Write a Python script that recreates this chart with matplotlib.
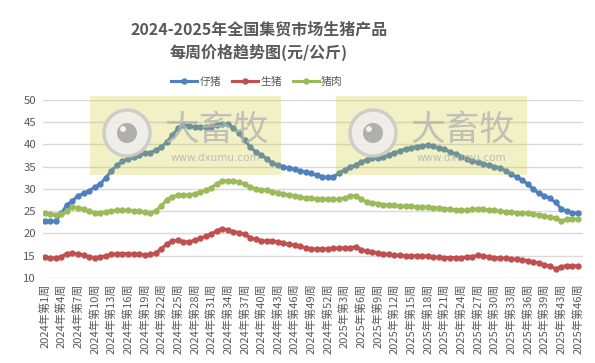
import numpy as np
import matplotlib
matplotlib.use('Agg')
import matplotlib.pyplot as plt
from matplotlib.patches import Rectangle, Ellipse

plt.rcParams['font.family'] = ['Noto Sans CJK SC', 'DejaVu Sans']

# categorias: semanas 2024 (1-52) y 2025 (1-39, 41-46)
semanas_2024 = list(range(1, 53))
semanas_2025 = list(range(1, 40)) + list(range(41, 47))
etiquetas = ['2024年第%d周' % s for s in semanas_2024] + ['2025年第%d周' % s for s in semanas_2025]

# precios (yuan/kg)
zaizhu = [22.7, 22.7, 22.9, 24.5, 26.4, 27.3, 28.5, 29.0, 29.6, 30.4,
          31.1, 32.5, 34.1, 35.3, 36.2, 36.8, 37.2, 37.6, 38.0, 38.2,
          38.7, 39.4, 40.6, 42.1, 43.6, 44.4, 44.2, 44.0, 44.0, 43.9,
          44.0, 44.4, 44.7, 44.5, 43.8, 42.5, 41.0, 39.5, 38.3, 37.6,
          36.8, 35.8, 35.3, 35.0, 34.7, 34.4, 34.1, 33.8, 33.5, 33.1,
          32.8, 32.6, 32.7, 33.6, 34.3, 34.9, 35.4, 36.0, 36.6, 36.9,
          37.0, 37.2, 37.6, 38.1, 38.6, 39.0, 39.3, 39.5, 39.7, 39.9,
          39.6, 39.2, 38.9, 38.4, 37.9, 37.3, 36.8, 36.3, 36.1, 35.7,
          35.4, 35.0, 34.8, 34.1, 33.3, 32.7, 32.0, 31.1, 30.0, 29.0,
          28.5, 27.9, 27.0, 25.6, 25.0, 24.7, 24.5]
shengzhu = [14.7, 14.5, 14.5, 14.8, 15.5, 15.6, 15.4, 15.2, 14.8, 14.6,
            14.7, 15.0, 15.3, 15.4, 15.5, 15.5, 15.4, 15.3, 15.2, 15.3,
            15.6, 16.6, 17.6, 18.4, 18.5, 18.2, 18.1, 18.5, 18.9, 19.4,
            19.9, 20.6, 21.1, 20.8, 20.4, 20.2, 19.8, 19.1, 18.7, 18.4,
            18.3, 18.4, 18.1, 17.8, 17.6, 17.4, 17.1, 16.8, 16.6, 16.5,
            16.5, 16.6, 16.7, 16.7, 16.8, 16.8, 17.0, 16.4, 16.0, 15.8,
            15.6, 15.4, 15.3, 15.1, 15.1, 15.0, 15.0, 15.0, 15.0, 14.9,
            14.7, 14.7, 14.6, 14.6, 14.6, 14.6, 14.7, 14.8, 15.1, 15.0,
            14.8, 14.6, 14.5, 14.4, 14.3, 14.2, 14.1, 13.9, 13.7, 13.4,
            13.0, 12.7, 12.1, 12.5, 12.8, 12.8, 12.7]
zhurou = [24.5, 24.4, 24.2, 24.3, 25.0, 25.9, 25.8, 25.4, 25.0, 24.7,
          24.7, 24.9, 25.1, 25.2, 25.2, 25.2, 25.1, 25.0, 24.8, 24.7,
          25.1, 26.2, 27.6, 28.3, 28.6, 28.6, 28.7, 28.9, 29.3, 29.7,
          30.3, 31.2, 31.9, 31.8, 31.8, 31.6, 31.1, 30.4, 30.0, 29.8,
          29.7, 29.4, 29.2, 28.9, 28.7, 28.5, 28.2, 28.0, 27.9, 27.8,
          27.7, 27.7, 27.7, 27.7, 28.0, 28.4, 28.5, 27.7, 27.1, 26.9,
          26.7, 26.5, 26.4, 26.3, 26.2, 26.1, 26.1, 26.0, 26.0, 25.9,
          25.8, 25.7, 25.6, 25.5, 25.3, 25.2, 25.3, 25.4, 25.5, 25.4,
          25.3, 25.2, 25.0, 24.9, 24.8, 24.7, 24.6, 24.5, 24.4, 24.2,
          24.0, 23.6, 23.4, 22.8, 23.2, 23.3, 23.2]

gris = '#595959'
W, H = 595, 363

fig = plt.figure(figsize=(W / 100, H / 100), dpi=100)
ax = fig.add_axes([43 / W, 1 - 278 / H, 540 / W, 178 / H])

x = np.arange(len(etiquetas))
series = [('仔猪', zaizhu, '#4F81BD'), ('生猪', shengzhu, '#C0504D'), ('猪肉', zhurou, '#9BBB59')]
for nombre, valores, color in series:
    ax.plot(x, valores, color=color, lw=2.2, marker='o', ms=4.6,
            markeredgewidth=0, label=nombre, zorder=3)

ax.set_ylim(10, 50)
ax.set_yticks(np.arange(10, 51, 5))
ax.set_xlim(-0.3, len(etiquetas) - 0.05)
ax.set_xticks(x[::3])
ax.set_xticklabels(etiquetas[::3], rotation=90, fontsize=8, color=gris)
ax.tick_params(axis='y', labelsize=8.2, labelcolor=gris, length=0, pad=5)
ax.tick_params(axis='x', length=0, pad=4)
ax.grid(axis='y', color='#D9D9D9', lw=1)
ax.set_axisbelow(True)
for s in ax.spines.values():
    s.set_visible(False)

# titulo y leyenda
fig.text(259 / W, 1 - 29 / H, '2024-2025年全国集贸市场生猪产品', ha='center', va='center',
         fontsize=11.5, fontweight='bold', color=gris)
fig.text(259 / W, 1 - 52 / H, '每周价格趋势图(元/公斤)', ha='center', va='center',
         fontsize=11.5, fontweight='bold', color=gris)
fig.legend(loc='center', bbox_to_anchor=(257 / W, 1 - 82 / H), ncol=3, frameon=False,
           fontsize=7.8, handlelength=2.4, handletextpad=0.2, columnspacing=1.0,
           labelcolor=gris)

# marcas de agua
for x0, cx in [(90, 127), (336, 373)]:
    fig.add_artist(Rectangle((x0 / W, 1 - 175 / H), 191 / W, 79 / H, transform=fig.transFigure,
                             facecolor=(205 / 255, 200 / 255, 30 / 255), alpha=0.25,
                             edgecolor='none', zorder=5))
    cy = 1 - 133 / H
    fig.add_artist(Ellipse((cx / W, cy), 46 / W, 46 / H, transform=fig.transFigure,
                           facecolor='#EFEFEF', edgecolor='#C8C8C8', lw=2.5, alpha=0.85, zorder=6))
    fig.add_artist(Ellipse((cx / W, cy), 20 / W, 20 / H, transform=fig.transFigure,
                           facecolor='#A8A8A8', edgecolor='none', alpha=0.9, zorder=7))
    fig.add_artist(Ellipse(((cx - 4) / W, cy + 4 / H), 6 / W, 6 / H, transform=fig.transFigure,
                           facecolor='#F0F0F0', edgecolor='none', zorder=8))
    fig.text((cx + 90) / W, 1 - 130 / H, '大畜牧', ha='center', va='center', fontsize=25,
             fontweight='medium', color='#B4B4B4', alpha=0.8, zorder=6)
    fig.text((cx + 88) / W, 1 - 158 / H, 'www.dxumu.com', ha='center', va='center', fontsize=7.5,
             color='#B4B4B4', alpha=0.85, zorder=6, family=['DejaVu Sans'])

fig.savefig('out.png', dpi=100)
